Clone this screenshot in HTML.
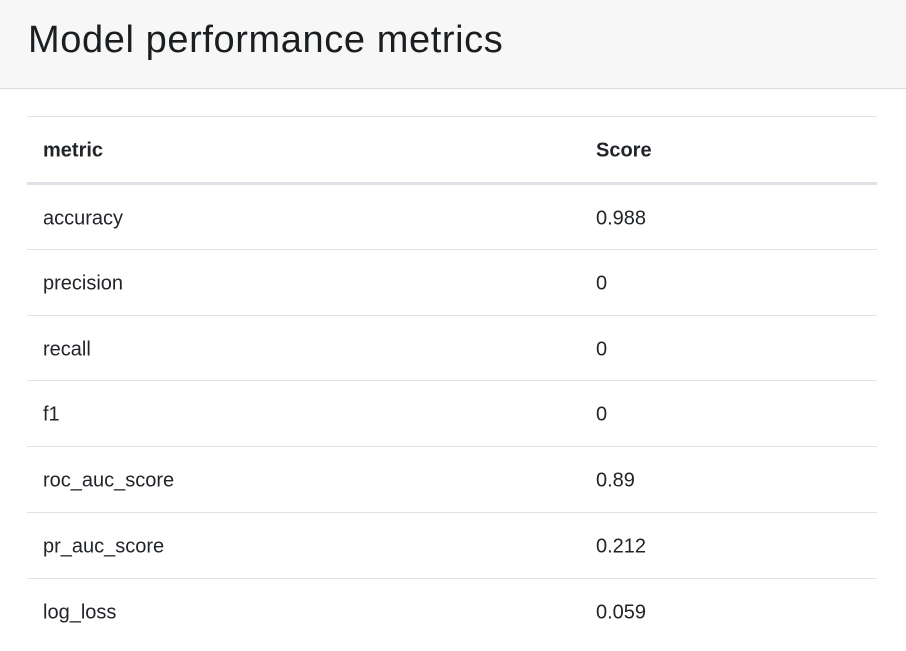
<!DOCTYPE html>
<html><head><meta charset="utf-8"><style>
body{margin:0;width:906px;height:651px;overflow:hidden;background:#fff;font-family:"Liberation Sans",sans-serif;color:#212529;position:relative}
.hdr{position:absolute;left:0;top:0;width:906px;height:88px;background:#f7f7f7;border-bottom:1px solid #dcdcdc}
.hdr h1{position:absolute;left:28px;top:17px;margin:0;font-size:38px;font-weight:normal;line-height:46px;color:#1b1e21;letter-spacing:0.6px}
.row{position:absolute;left:27px;width:850px;border-top:1px solid #dee2e6;font-size:20px}
.row span{position:absolute;top:50%;transform:translateY(-45%)}
.c1{left:16px}.c2{left:569px}
.th{font-weight:bold;border-bottom:3px solid #dee2e6}
</style></head><body>
<div class="hdr"><h1>Model performance metrics</h1></div>
<div class="row th" style="top:116px;height:65px"><span class="c1">metric</span><span class="c2">Score</span></div>
<div class="row" style="top:184px;height:65px"><span class="c1">accuracy</span><span class="c2">0.988</span></div>
<div class="row" style="top:249px;height:65px"><span class="c1">precision</span><span class="c2">0</span></div>
<div class="row" style="top:315px;height:65px"><span class="c1">recall</span><span class="c2">0</span></div>
<div class="row" style="top:380px;height:65px"><span class="c1">f1</span><span class="c2">0</span></div>
<div class="row" style="top:446px;height:65px"><span class="c1">roc_auc_score</span><span class="c2">0.89</span></div>
<div class="row" style="top:512px;height:65px"><span class="c1">pr_auc_score</span><span class="c2">0.212</span></div>
<div class="row" style="top:578px;height:66px"><span class="c1">log_loss</span><span class="c2">0.059</span></div>
</body></html>
